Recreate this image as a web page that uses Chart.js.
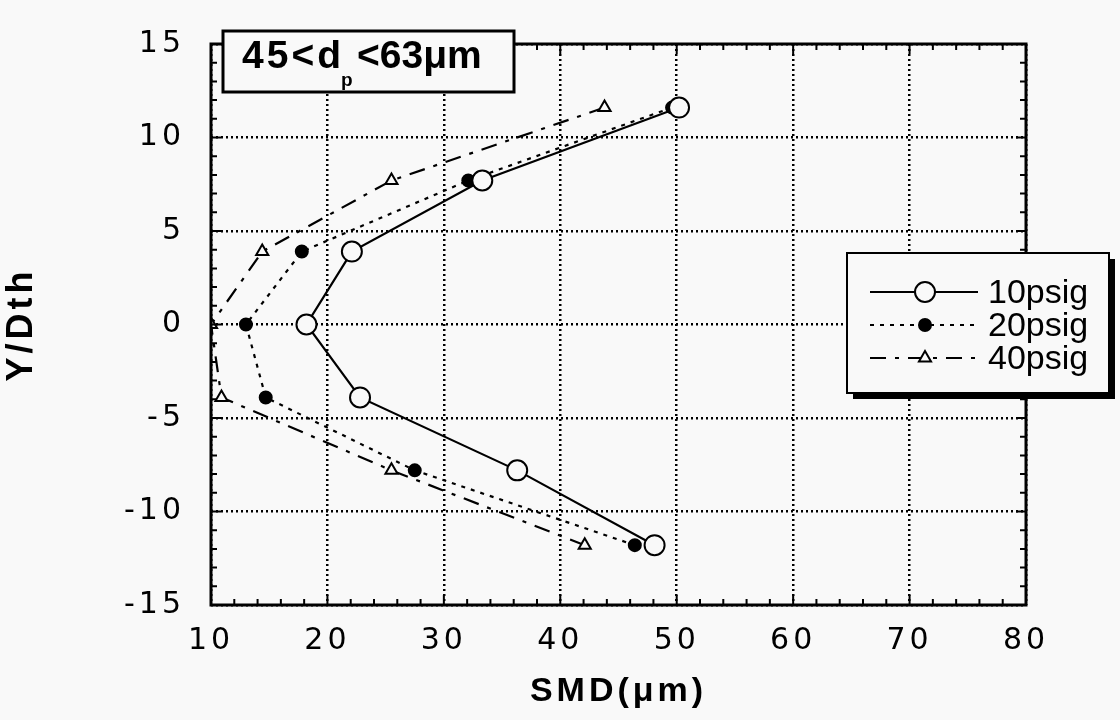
<!DOCTYPE html>
<html>
<head>
<meta charset="utf-8">
<script src="https://cdn.jsdelivr.net/npm/chart.js@4.4.1/dist/chart.umd.min.js"></script>
<style>
  html, body { margin: 0; padding: 0; background: #f9f9f9; }
  #wrap { width: 1120px; height: 720px; }
</style>
</head>
<body>
<div id="wrap"><canvas id="chart" width="1120" height="720"></canvas></div>
<script>
// Y/Dth positions (same for every series)
var yPos = [11.6, 7.7, 3.9, 0, -3.9, -7.8, -11.8];
// SMD (um) per pressure
var smd10 = [50.2, 33.3, 22.1, 18.2, 22.8, 36.3, 48.1];
var smd20 = [49.6, 32.1, 17.8, 13.0, 14.7, 27.5, 46.4];
var smd40 = [43.8, 25.5, 14.4, 10.0, 10.9, 25.5, 42.1];
var seriesNames = ['10psig', '20psig', '40psig'];
var xTicks = [10, 20, 30, 40, 50, 60, 70, 80];
var yTicks = [-15, -10, -5, 0, 5, 10, 15];

function pts(xs) {
  return xs.map(function (x, i) { return { x: x, y: yPos[i] }; });
}

var styles = [
  { dash: [], radius: 10, bg: '#f9f9f9', style: 'circle' },
  { dash: [4, 6], radius: 6, bg: '#000', style: 'circle' },
  { dash: [16, 9, 4, 9], radius: 7, bg: '#f9f9f9', style: 'triangle' }
];
var allData = [smd10, smd20, smd40];

var datasets = allData.map(function (d, i) {
  var s = styles[i];
  return {
    label: seriesNames[i],
    data: pts(d),
    showLine: true,
    borderColor: '#000',
    borderWidth: 2.2,
    borderDash: s.dash,
    pointStyle: s.style,
    pointRadius: s.radius,
    pointBackgroundColor: s.bg,
    pointBorderColor: '#000',
    pointBorderWidth: 2,
    tension: 0
  };
});

var spacing = {
  id: 'spacing',
  beforeDraw: function (chart) { chart.ctx.letterSpacing = '4px'; },
  beforeDatasetsDraw: function (chart) { chart.ctx.letterSpacing = '0px'; }
};

var frame = {
  id: 'frame',
  afterDatasetsDraw: function (chart) {
    var ctx = chart.ctx;
    var a = chart.chartArea;
    var xs = chart.scales.x, ys = chart.scales.y;
    ctx.save();
    ctx.letterSpacing = '0px';
    ctx.strokeStyle = '#000';
    ctx.setLineDash([]);
    // minor/major ticks inside the frame
    ctx.lineWidth = 2;
    ctx.beginPath();
    for (var v = -15; v <= 15; v++) {
      var py = ys.getPixelForValue(v);
      var len = v % 5 === 0 ? 10 : 6;
      ctx.moveTo(a.left, py); ctx.lineTo(a.left + len, py);
      ctx.moveTo(a.right, py); ctx.lineTo(a.right - len, py);
    }
    for (var u = 10; u <= 80; u += 2) {
      var px = xs.getPixelForValue(u);
      var l2 = u % 10 === 0 ? 10 : 6;
      ctx.moveTo(px, a.bottom); ctx.lineTo(px, a.bottom - l2);
      ctx.moveTo(px, a.top); ctx.lineTo(px, a.top + l2);
    }
    ctx.stroke();
    ctx.lineWidth = 3;
    ctx.strokeRect(a.left, a.top, a.right - a.left, a.bottom - a.top);

    // label box
    ctx.fillStyle = '#f9f9f9';
    ctx.fillRect(223, 31, 291, 61);
    ctx.lineWidth = 3;
    ctx.strokeRect(223, 31, 291, 61);
    ctx.fillStyle = '#000';
    ctx.font = 'bold 39px "Liberation Sans", Arial, sans-serif';
    ctx.textBaseline = 'alphabetic';
    ctx.textAlign = 'left';
    ctx.letterSpacing = '3px';
    ctx.fillText('45<d', 242, 68);
    var w1 = ctx.measureText('45<d').width;
    ctx.font = 'bold 19px "Liberation Sans", Arial, sans-serif';
    ctx.letterSpacing = '0px';
    ctx.fillText('p', 242 + w1 - 3, 86);
    ctx.font = 'bold 39px "Liberation Sans", Arial, sans-serif';
    ctx.fillText('<63μm', 242 + w1 + 13, 68);

    // legend box with shadow
    var lx = 847, ly = 253, lw = 262, lh = 140;
    ctx.fillStyle = '#000';
    ctx.fillRect(lx + 6, ly + 6, lw, lh);
    ctx.fillStyle = '#f9f9f9';
    ctx.fillRect(lx, ly, lw, lh);
    ctx.lineWidth = 2;
    ctx.strokeRect(lx, ly, lw, lh);
    ctx.font = '34px "Liberation Sans", Arial, sans-serif';
    ctx.textBaseline = 'middle';
    chart.data.datasets.forEach(function (ds, i) {
      var yy = 292 + i * 33;
      ctx.save();
      ctx.strokeStyle = '#000';
      ctx.lineWidth = 2;
      ctx.setLineDash(ds.borderDash);
      ctx.beginPath();
      ctx.moveTo(870, yy); ctx.lineTo(978, yy);
      ctx.stroke();
      ctx.restore();
      ctx.setLineDash([]);
      ctx.fillStyle = ds.pointBackgroundColor;
      ctx.lineWidth = 2;
      Chart.helpers.drawPoint(ctx, {
        pointStyle: ds.pointStyle, rotation: 0, radius: ds.pointRadius, borderWidth: 2
      }, 925, yy);
      ctx.fillStyle = '#000';
      ctx.fillText(ds.label, 988, yy + 2);
    });
    ctx.restore();
  }
};

new Chart(document.getElementById('chart').getContext('2d'), {
  type: 'scatter',
  data: { datasets: datasets },
  plugins: [spacing, frame],
  options: {
    responsive: false,
    animation: false,
    layout: { padding: { left: 0, top: 21, right: 94, bottom: 0 } },
    plugins: { legend: { display: false }, tooltip: { enabled: false } },
    scales: {
      x: {
        type: 'linear',
        min: 10, max: 80,
        afterFit: function (s) { s.height = 115; },
        afterBuildTicks: function (s) { s.ticks = xTicks.map(function (v) { return { value: v }; }); },
        grid: { color: '#000', lineWidth: 2.5, drawTicks: false },
        border: { display: false, dash: [2, 3] },
        ticks: { color: '#000', padding: 18, maxRotation: 0, font: { family: '"DejaVu Sans"', size: 30 } },
        title: { display: true, text: 'SMD(μm)', color: '#000', padding: { top: 0, bottom: 8 },
          font: { family: '"Liberation Sans", Arial', size: 34, weight: 'bold' } }
      },
      y: {
        type: 'linear',
        min: -15, max: 15,
        afterFit: function (s) { s.width = 211; },
        afterBuildTicks: function (s) { s.ticks = yTicks.map(function (v) { return { value: v }; }); },
        grid: { color: '#000', lineWidth: 2.5, drawTicks: false },
        border: { display: false, dash: [2, 3] },
        ticks: { color: '#000', padding: 26, font: { family: '"DejaVu Sans"', size: 30 } },
        title: { display: true, text: 'Y/Dth', color: '#000', padding: { top: 0, bottom: 18 },
          font: { family: '"Liberation Sans", Arial', size: 36, weight: 'bold' } }
      }
    }
  }
});
</script>
</body>
</html>
